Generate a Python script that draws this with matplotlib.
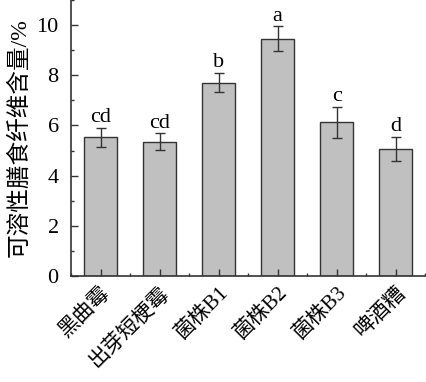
import matplotlib
matplotlib.use('Agg')
import matplotlib.pyplot as plt
import numpy as np
from matplotlib.ticker import MultipleLocator

plt.rcParams['font.family'] = ['Liberation Serif', 'Noto Sans CJK SC']
plt.rcParams['font.size'] = 11

strains = ['黑曲霉', '出芽短梗霉', '菌株B1', '菌株B2', '菌株B3', '啤酒糟']
content = [5.52, 5.35, 7.71, 9.45, 6.13, 5.07]
errors = [0.38, 0.33, 0.38, 0.50, 0.62, 0.48]
letters = ['cd', 'cd', 'b', 'a', 'c', 'd']

fig = plt.figure(figsize=(4.26, 3.82), dpi=100)
ax = fig.add_axes([0.167, 0.2775, 0.831, 0.7225])

x = np.arange(len(strains))
ax.bar(x, content, 0.56, yerr=errors, color='#c0c0c0', edgecolor='#333333',
       linewidth=1.0, error_kw=dict(ecolor='#333333', elinewidth=1.0, capsize=3.5, capthick=1.0))

for xi, v, e, lab in zip(x, content, errors, letters):
    ax.annotate(lab, xy=(xi, v + e), xytext=(0, 0.5), textcoords='offset points',
                ha='center', va='bottom', fontsize=16)

ax.set_xlim(-0.5, 5.5)
ax.set_ylim(0, 11)
ax.set_xticks(x)
ax.set_xticklabels(strains, rotation=45, ha='right', rotation_mode='anchor')
ax.xaxis.set_minor_locator(MultipleLocator(1, offset=0.5))
ax.yaxis.set_major_locator(MultipleLocator(2))
ax.yaxis.set_minor_locator(MultipleLocator(1))
ax.tick_params(axis='both', which='major', direction='in', length=5, width=1, color='#333333', labelsize=16)
ax.tick_params(axis='both', which='minor', direction='in', length=2.5, width=1, color='#333333')
ax.tick_params(axis='y', pad=9)
ax.tick_params(axis='x', labelsize=15, pad=5)
ax.set_ylabel('可溶性膳食纤维含量/%', fontsize=17, labelpad=4)

for s in ['top', 'right']:
    ax.spines[s].set_visible(False)
for s in ['left', 'bottom']:
    ax.spines[s].set_color('#333333')
    ax.spines[s].set_linewidth(1.2)

fig.savefig('out.png', dpi=100)
